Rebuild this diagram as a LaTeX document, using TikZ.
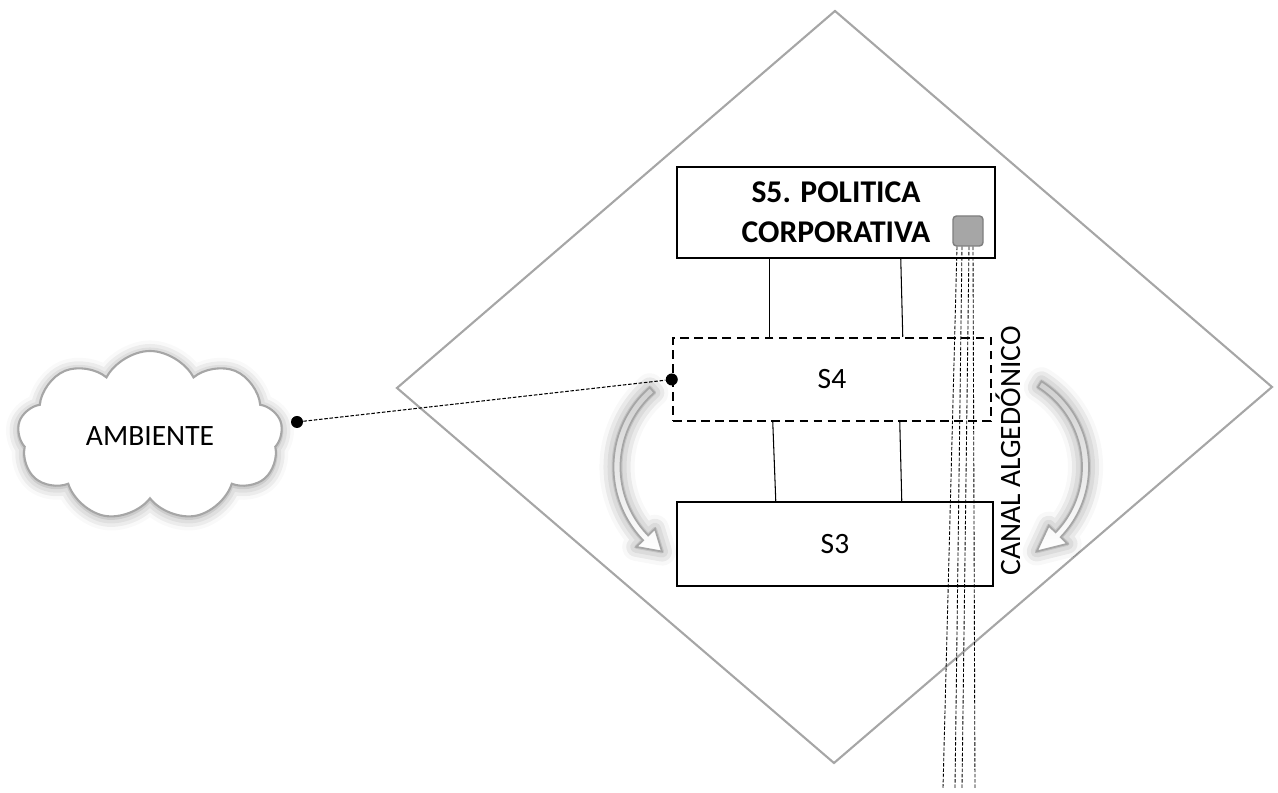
\documentclass[tikz,border=0pt]{standalone}
\usepackage{fontspec}
\setmainfont{Carlito}
\usepackage{tikz}
\usetikzlibrary{arrows.meta,calc,positioning,shapes.symbols,shadows.blur}
\definecolor{VsmGray}{HTML}{A6A6A6}
\definecolor{VsmDark}{HTML}{7F7F7F}
\definecolor{VsmShade}{HTML}{D0D0D0}

\begin{document}
\begin{tikzpicture}[
    sysbox/.style={draw,line width=1.4pt,fill=white,minimum width=6.36cm,font=\fontsize{16.8}{20}\selectfont},
    link/.style={line width=.6pt},
    alg/.style={line width=.5pt,dash pattern=on 2pt off 1pt},
    dot/.style={circle,fill=black,inner sep=0pt,minimum size=.24cm},
    algarrow/.style={draw=VsmGray,line width=1pt,top color=VsmShade,bottom color=white,
      blur shadow={shadow xshift=0pt,shadow yshift=0pt,shadow blur radius=8pt,shadow opacity=45}}
  ]
  \useasboundingbox (0,0) rectangle (25.56,15.86);

  % viable system frame
  \draw[VsmGray,line width=1.2pt] (16.70,15.64) -- (25.44,8.12) -- (16.68,0.60) -- (7.94,8.10) -- cycle;

  % subsystems
  \node[sysbox,minimum height=1.82cm,align=center,font=\fontsize{18}{22.5}\selectfont\bfseries]
    (s5) at (16.72,11.61) {S5. POLITICA\\CORPORATIVA};
  \node[sysbox,dashed,dash pattern=on 5pt off 3pt,minimum height=1.66cm] (s4) at (16.64,8.27) {S4};
  \node[sysbox,minimum width=6.32cm,minimum height=1.68cm] (s3) at (16.70,4.98) {S3};
  \node[draw=VsmDark,fill=VsmGray,rounded corners=2pt,minimum size=.6cm,inner sep=0pt,line width=.8pt]
    (alarm) at (19.36,11.24) {};

  \draw[link] ($(s5.south west)+(1.88,0)$) -- ($(s4.north west)+(1.96,0)$);
  \draw[link] ($(s5.south west)+(4.50,0)$) -- ($(s4.north west)+(4.62,0)$);
  \draw[link] ($(s4.south west)+(2.02,0)$) -- ($(s3.north west)+(2.00,0)$);
  \draw[link] ($(s4.south west)+(4.56,0)$) -- ($(s3.north west)+(4.52,0)$);

  % algedonic channel
  \foreach \i/\dx/\xe in {1/-.22/18.86,2/-.12/19.10,3/.02/19.24,4/.10/19.50} {
    \coordinate (alg\i) at (\xe,.10);
    \draw[alg] ([xshift=\dx cm]alarm.south) -- (alg\i);
  }
  \node[rotate=90,font=\fontsize{16.8}{20}\selectfont,inner sep=1pt] (canal) at (20.16,6.84) {CANAL ALGEDÓNICO};

  % environment
  \node[cloud,cloud puffs=9,cloud puff arc=125,aspect=1.6,draw=VsmGray,line width=1.2pt,fill=white,
    minimum width=5.3cm,minimum height=3.4cm,font=\fontsize{16.8}{20}\selectfont,
    blur shadow={shadow xshift=0pt,shadow yshift=-1pt,shadow blur radius=7pt,shadow opacity=40}]
    (ambiente) at (3.0,7.14) {AMBIENTE};
  \node[dot] (d1) at (5.94,7.42) {};
  \node[dot] (d2) at (s4.west) {};
  \draw[line width=.6pt,dash pattern=on 2pt off 1pt] (d1) -- (d2);

  % homeostat arrows S4 <-> S3
  \coordinate (curvaL) at (14.38,6.52);
  \coordinate (curvaR) at (19.76,6.52);
  \path[algarrow] ($(curvaL)+(131:2.11)$) arc[start angle=131,end angle=224,radius=2.11]
    -- ($(curvaL)+(224:2.30)$) -- ($(curvaL)+(236:2.04)$) -- ($(curvaL)+(224:1.78)$)
    -- ($(curvaL)+(224:1.97)$) arc[start angle=224,end angle=131,radius=1.97] -- cycle;
  \path[algarrow] ($(curvaR)+(58:2.02)$) arc[start angle=58,end angle=-44,radius=2.02]
    -- ($(curvaR)+(-44:2.21)$) -- ($(curvaR)+(-60:1.95)$) -- ($(curvaR)+(-44:1.69)$)
    -- ($(curvaR)+(-44:1.88)$) arc[start angle=-44,end angle=58,radius=1.88] -- cycle;
\end{tikzpicture}
\end{document}
